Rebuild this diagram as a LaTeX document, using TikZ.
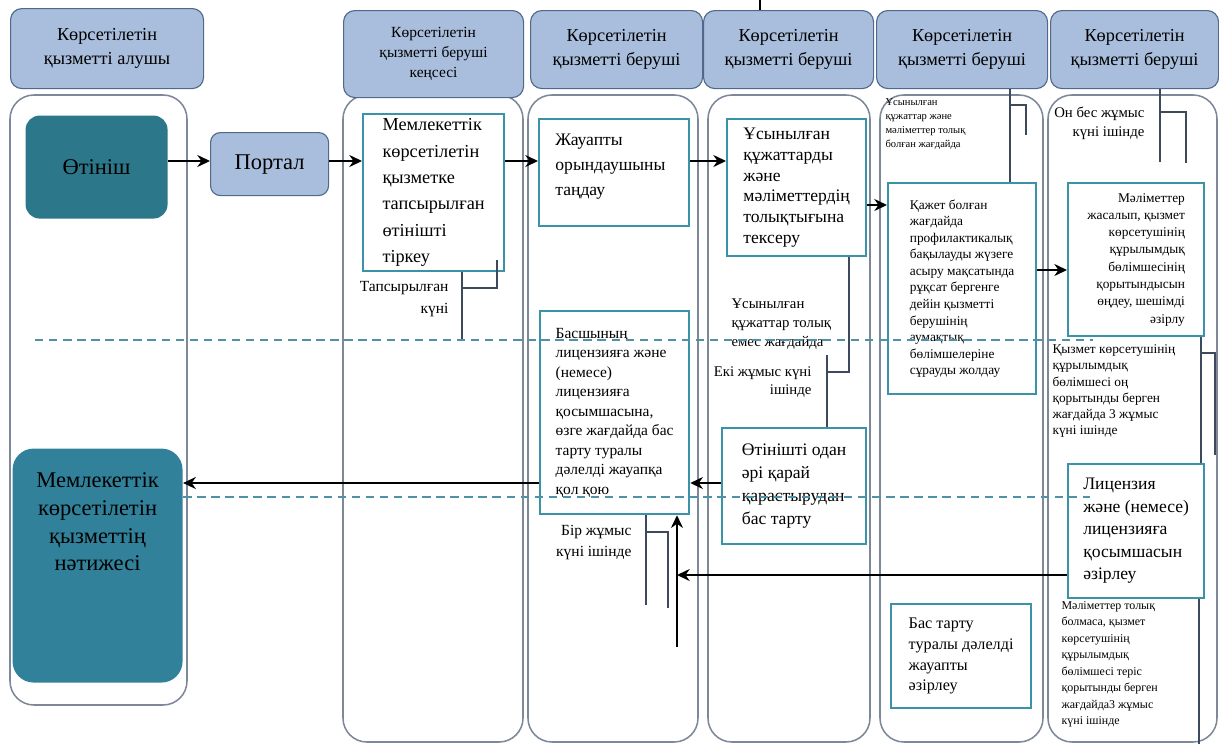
\documentclass[tikz,border=0pt]{standalone}
\usepackage{fontspec}
\setmainfont{Liberation Serif}
\usepackage{tikz}
\usetikzlibrary{arrows.meta}
\definecolor{headfill}{HTML}{A9BEDC}
\definecolor{headline}{HTML}{50698A}
\definecolor{laneline}{HTML}{7D8899}
\definecolor{boxline}{HTML}{3A93A7}
\definecolor{appfill}{HTML}{2C7789}
\definecolor{resfill}{HTML}{32819A}
\definecolor{noteline}{HTML}{3C4A5C}
\definecolor{splitline}{HTML}{4F92A6}
\newcommand{\fsz}[2]{\fontsize{#1}{#2}\selectfont}
\def\px{0.025cm}

\begin{document}
\begin{tikzpicture}[x=0.025cm, y=-0.025cm, >={Stealth[length=9pt,width=8.5pt]}, line width=0.8pt,
  head/.style={draw=headline, fill=headfill, rounded corners=8pt, align=center, anchor=north west, inner sep=0pt},
  lane/.style={draw=laneline, line width=1.1pt, rounded corners=17pt},
  proc/.style={draw=boxline, fill=white, line width=1.6pt, anchor=north west, inner sep=0pt},
  boxsize/.style 2 args={minimum width=#1*\px, minimum height=#2*\px},
  note/.style={inner sep=0pt},
  callout/.style={draw=noteline, line width=0.8pt},
  flow/.style={->, line width=2pt},
  split/.style={draw=splitline, line width=0.8pt, dash pattern=on 6pt off 4pt}]

\useasboundingbox (0,0) rectangle (1219,744);

\foreach \xa/\xb/\yb in {10/187/705, 343/523/742, 528/698/742, 708/870/742, 880/1043/742, 1048/1217/742}
  \draw[lane] (\xa,95) rectangle (\xb,\yb);

\node[head, boxsize={193}{80}, font=\fsz{13}{17.5}] (h1) at (10,8) {Көрсетілетін\\қызметті алушы};
\node[head, boxsize={180}{87}, font=\fsz{11}{14.2}] (h2) at (343,10) {Көрсетілетін\\қызметті беруші\\кеңсесі};
\foreach \idx/\xa/\hw in {3/530/172, 4/703/170, 5/876/171, 6/1050/168}{
  \node[head, boxsize={\hw}{78}, font=\fsz{13}{17.5}] (h\idx) at (\xa,10) {Көрсетілетін\\қызметті беруші};
}

\node[fill=appfill, rounded corners=10pt, anchor=north west, boxsize={142}{103}, font=\fsz{16}{19}] (app) at (25,115) {Өтініш};
\node[head, rounded corners=7pt, boxsize={118}{63}, font=\fsz{16}{19}] (portal) at (210,132) {Портал};

\node[proc, boxsize={141}{157}, align=left, font=\fsz{13}{18.8}] (reg) at (362,113)
  {Мемлекеттік\\көрсетілетін\\қызметке\\тапсырылған\\өтінішті\\тіркеу};
\node[proc, boxsize={150}{107},
      label={[anchor=north west, align=left, inner sep=0pt, xshift=12pt, yshift=-11pt, font=\fsz{12.5}{17.7}]north west:{Жауапты\\орындаушыны\\таңдау}}] (sel) at (538,118) {};
\node[proc, boxsize={139}{137}, align=left, font=\fsz{12.5}{14.8}] (chk) at (726,118)
  {Ұсынылған\\құжаттарды\\және\\мәліметтердің\\толықтығына\\тексеру};
\node[proc, boxsize={148}{211}, align=left, font=\fsz{9.5}{11.8}] (req) at (887,182)
  {Қажет болған\\жағдайда\\профилактикалық\\бақылауды жүзеге\\асыру мақсатында\\рұқсат бергенге\\дейін қызметті\\берушінің\\аумақтық\\бөлімшелеріне\\сұрауды жолдау};
\node[proc, boxsize={136}{153}, align=right, font=\fsz{9.5}{12.3}] (dec) at (1067,182)
  {Мәліметтер\\жасалып, қызмет\\көрсетушінің\\құрылымдық\\бөлімшесінің\\қорытындысын\\өңдеу, шешімді\\әзірлу};
\node[proc, boxsize={149}{203}, align=left, font=\fsz{11}{13.9}] (sign) at (539,310)
  {Басшының\\лицензияға және\\(немесе)\\лицензияға\\қосымшасына,\\өзге жағдайда бас\\тарту туралы\\дәлелді жауапқа\\қол қою};
\node[proc, boxsize={144}{116}, align=left, font=\fsz{12.5}{16.3}] (rej) at (721,427)
  {Өтінішті одан\\әрі қарай\\қарастырудан\\бас тарту};
\node[proc, boxsize={136}{134}, align=left, font=\fsz{12.5}{16}] (lic) at (1067,463)
  {Лицензия\\және (немесе)\\лицензияға\\қосымшасын\\әзірлеу};
\node[proc, boxsize={140}{104}, align=left, font=\fsz{11.5}{14.7}] (refuse) at (890,603)
  {Бас тарту\\туралы дәлелді\\жауапты\\әзірлеу};
\node[fill=resfill, rounded corners=15pt, anchor=north west, boxsize={170}{234},
      label={[anchor=north, align=center, inner sep=0pt, yshift=-17pt, font=\fsz{16}{19.8}]north:{Мемлекеттік\\көрсетілетін\\қызметтің\\нәтижесі}}] (res) at (12,448) {};

\node[note, anchor=north east, align=right, font=\fsz{11}{15.5}] (n1) at (449,281) {Тапсырылған\\күні};
\node[note, anchor=north west, align=left, font=\fsz{10.5}{13.5}] (n2) at (731,298) {Ұсынылған\\құжаттар толық\\емес жағдайда};
\node[note, anchor=north east, align=right, font=\fsz{10.5}{13}] (n3) at (812,366) {Екі жұмыс күні\\ішінде};
\node[note, anchor=north east, align=right, font=\fsz{11}{15}] (n4) at (632,525) {Бір жұмыс\\күні ішінде};
\node[note, anchor=north west, align=left, font=\fsz{7.5}{10}] (n5) at (885,98) {Ұсынылған\\құжаттар және\\мәліметтер толық\\болған жағдайда};
\node[note, anchor=north east, align=right, font=\fsz{10.5}{14}] (n6) at (1145,106) {Он бес жұмыс\\күні ішінде};
\node[note, anchor=north west, align=left, font=\fsz{9.5}{11.6}] (n7) at (1052,344) {Қызмет көрсетушінің\\құрылымдық\\бөлімшесі оң\\қорытынды берген\\жағдайда 3 жұмыс\\күні ішінде};
\node[note, anchor=north west, align=left, font=\fsz{8.5}{11.7}] (n8) at (1061,601) {Мәліметтер толық\\болмаса, қызмет\\көрсетушінің\\құрылымдық\\бөлімшесі теріс\\қорытынды берген\\жағдайда3 жұмыс\\күні ішінде};

\draw[callout] (reg.south -| 462,0) -- (462,340) (462,288) -| (497,260);
\draw[callout] (chk.south -| 849,0) |- (827,372) (827,355) -- (rej.north -| 827,0);
\draw[callout] (sign.south -| 646,0) -- (646,605) (646,532) -| (668,608);
\draw[callout] (h5.south -| 1010,0) -- (req.north -| 1010,0) (1010,105) -| (1026,135);
\draw[callout] (h6.south -| 1160,0) -- (1160,162) (1160,112) -| (1186,163);
\draw[callout] (dec.south -| 1201,0) -- (lic.north -| 1201,0) (1201,353) -| (1215,455);
\draw[callout] (lic.south -| 1199,0) -- (1199,744);

\draw[split] (35,340) -- (1093,340);
\draw[split] (res.east |- 0,497) -- (1090,497);

\draw[line width=1.2pt] (760,0) -- (h4.north -| 760,0);

\coordinate (r1) at (0,161);
\coordinate (r2) at (0,205);
\coordinate (r3) at (0,270);
\coordinate (r4) at (0,483);
\coordinate (r5) at (0,575);
\coordinate (up) at (677,647);

\draw[flow] (app.east |- r1) -- (portal.west |- r1);
\draw[flow] (portal.east |- r1) -- (reg.west |- r1);
\draw[flow] (reg.east |- r1) -- (sel.west |- r1);
\draw[flow] (sel.east |- r1) -- (chk.west |- r1);
\draw[flow] (chk.east |- r2) -- (req.west |- r2);
\draw[flow] (req.east |- r3) -- (dec.west |- r3);
\draw[flow] (rej.west |- r4) -- (sign.east |- r4);
\draw[flow] (sign.west |- r4) -- (res.east |- r4);
\draw[flow] (lic.west |- r5) -- (up |- r5);
\draw[flow] (up) -- (sign.south -| up);

\end{tikzpicture}
\end{document}
